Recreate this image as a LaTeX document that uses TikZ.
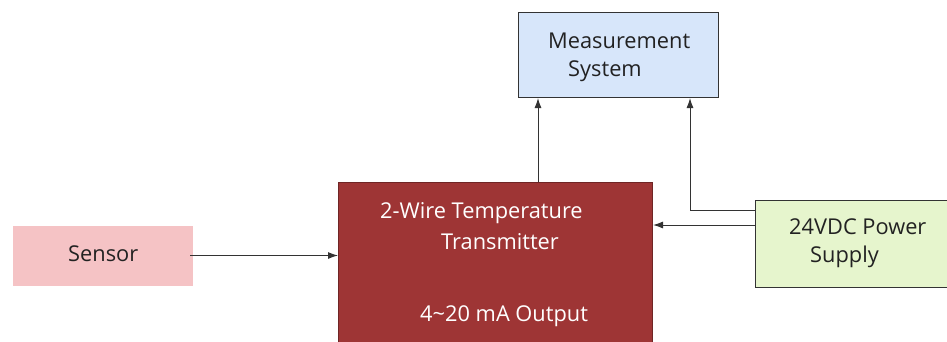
\documentclass[tikz,border=0pt]{standalone}
\usepackage{fontspec}
\setmainfont{Open Sans}
\usetikzlibrary{arrows.meta,calc}
\definecolor{msfill}{HTML}{D7E6FA}
\definecolor{txfill}{HTML}{9E3535}
\definecolor{snfill}{HTML}{F5C3C5}
\definecolor{psfill}{HTML}{E6F5CD}
\definecolor{linec}{HTML}{333333}
\definecolor{txtc}{HTML}{222222}
\tikzset{
  box/.style={draw=linec, line width=1pt, inner sep=0pt, anchor=north west},
  lbl/.style={font=\fontsize{21.8}{26}\selectfont, text=txtc, inner sep=0pt, anchor=west},
  wlbl/.style={lbl, text=white},
  arr/.style={draw=linec, line width=1pt, -{Latex[length=10pt,width=7pt]}},
}
\begin{document}
\begin{tikzpicture}[x=1pt,y=-1pt]
\useasboundingbox (0,0) rectangle (947,341);
\node[box, fill=msfill, minimum width=200pt, minimum height=85pt] (ms) at (518,12) {};
\node[box, fill=txfill, draw=txfill!70!black, minimum width=314pt, minimum height=170pt] (tx) at (338,182) {};
\node[box, fill=snfill, draw=none, minimum width=180pt, minimum height=60pt] (sn) at (12,225) {};
\node[box, fill=psfill, minimum width=196pt, minimum height=87pt] (ps) at (755,200) {};

\node[lbl] (t1) at (548,41) {Measurement};
\node[lbl] (t2) at (568,71) {System};
\node[wlbl] (t3) at (380,213) {2-Wire Temperature};
\node[wlbl] (t4) at (441,242) {Transmitter};
\node[wlbl] (t5) at (420,316) {4\char"007E 20 mA Output};
\node[lbl] (t6) at (68,254) {Sensor};
\node[lbl] (t7) at (789,227) {24VDC Power};
\node[lbl] (t8) at (810,257) {Supply};

\draw[arr] ([xshift=-3pt]sn.east) -- (sn.east -| tx.west);
\draw[arr] ([xshift=200pt]tx.north west) -- ([xshift=20pt]ms.south west);
\draw[arr] ([yshift=-10pt]ps.north west) -| ([xshift=172pt]ms.south west);
\draw[arr] ([yshift=-25pt]ps.north west) -- ([yshift=-25pt]ps.north west -| tx.east);
\end{tikzpicture}
\end{document}
